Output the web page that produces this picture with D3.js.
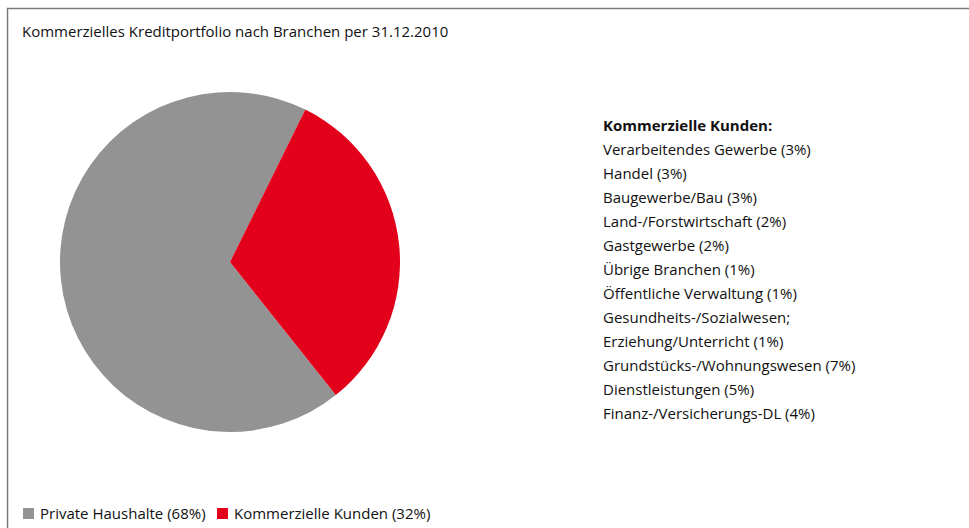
<!DOCTYPE html>
<html>
<head>
<meta charset="utf-8">
<script src="https://cdn.jsdelivr.net/npm/d3@7"></script>
<style>
  body { margin: 0; background: #fff; }
  svg { display: block; font-family: "Open Sans", sans-serif; }
</style>
</head>
<body>
<svg id="canvas"></svg>
<script>
const title = 'Kommerzielles Kreditportfolio nach Branchen per 31.12.2010'

const segments = ['Private Haushalte', 'Kommerzielle Kunden']
const shares = [68, 32]
const colors = ['#939393', '#e2001a']

const branchHeader = 'Kommerzielle Kunden:'
const branchLines = [
  'Verarbeitendes Gewerbe (3%)',
  'Handel (3%)',
  'Baugewerbe/Bau (3%)',
  'Land-/Forstwirtschaft (2%)',
  'Gastgewerbe (2%)',
  'Übrige Branchen (1%)',
  'Öffentliche Verwaltung (1%)',
  'Gesundheits-/Sozialwesen;',
  'Erziehung/Unterricht (1%)',
  'Grundstücks-/Wohnungswesen (7%)',
  'Dienstleistungen (5%)',
  'Finanz-/Versicherungs-DL (4%)'
]

const width = 969
const height = 528

let canvas = d3.select('#canvas')
  .attr('width', width)
  .attr('height', height)

// frame: only top and left edges are inside the view
canvas.append('path')
  .attr('d', 'M7.5,' + height + ' V8.5 H' + width)
  .attr('fill', 'none')
  .attr('stroke', '#7a7a7a')
  .attr('stroke-width', 1.5)

canvas.append('text')
  .attr('x', 22)
  .attr('y', 37)
  .attr('font-size', 15)
  .attr('fill', '#111')
  .text(title)

// pie
let cx = 230, cy = 262, radius = 170
let start = 141.5 * Math.PI / 180

let pie = d3.pie()
  .sort(null)
  .startAngle(start)
  .endAngle(start + 2 * Math.PI)

let arc = d3.arc().innerRadius(0).outerRadius(radius)

canvas.append('g')
  .attr('transform', 'translate(' + cx + ',' + cy + ')')
  .selectAll('path')
  .data(pie(shares))
  .enter()
  .append('path')
  .attr('d', arc)
  .attr('fill', (d, i) => colors[i])

// branch list
let listY = d3.scaleLinear().domain([0, 1]).range([149, 173])

canvas.append('text')
  .attr('x', 603)
  .attr('y', 131)
  .attr('font-size', 15)
  .attr('font-weight', 'bold')
  .attr('fill', '#111')
  .text(branchHeader)

canvas.selectAll('text.branch')
  .data(branchLines)
  .enter()
  .append('text')
  .attr('class', 'branch')
  .attr('x', 603)
  .attr('y', (d, i) => listY(i) + 6)
  .attr('font-size', 15)
  .attr('fill', '#111')
  .text(d => d)

// bottom legend
let legend = canvas.append('g').attr('transform', 'translate(23,508)')
let legendX = [0, 194]

segments.forEach((name, i) => {
  legend.append('rect')
    .attr('x', legendX[i])
    .attr('y', 0)
    .attr('width', 11)
    .attr('height', 11)
    .attr('fill', colors[i])
  legend.append('text')
    .attr('x', legendX[i] + 17)
    .attr('y', 11)
    .attr('font-size', 15)
    .attr('fill', '#111')
    .text(name + ' (' + shares[i] + '%)')
})
</script>
</body>
</html>
